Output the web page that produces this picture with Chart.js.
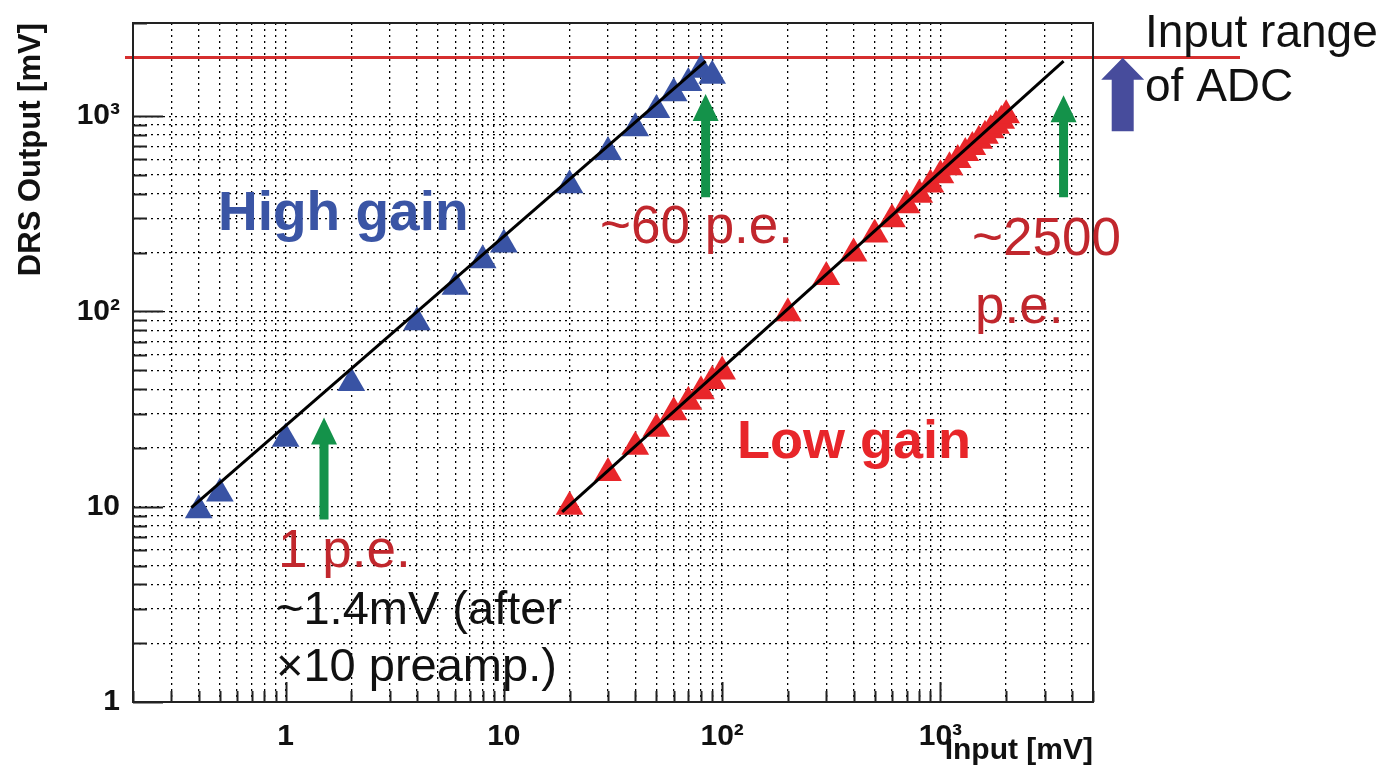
<!DOCTYPE html>
<html>
<head>
<meta charset="utf-8">
<title>DRS output vs input</title>
<script src="https://cdn.jsdelivr.net/npm/chart.js@4.4.0/dist/chart.umd.min.js"></script>
<style>
  html, body { margin: 0; padding: 0; background: #fff; }
  #wrap { width: 1399px; height: 772px; position: relative; }
</style>
</head>
<body>
<div id="wrap"><canvas id="drsChart"></canvas></div>
<script>
// High gain channel: input [mV] -> DRS output [mV]
const highInput  = [0.4, 0.5, 1, 2, 4, 6, 8, 10, 20, 30, 40, 50, 60, 70, 80, 90];
const highOutput = [9.6, 11.7, 22.3, 43, 88, 134, 183, 220, 443, 656, 868, 1077, 1312, 1477, 1727, 1610];

// Low gain channel
const lowInput  = [20, 30, 40, 50, 60, 70, 80, 90, 100, 200, 300, 400, 500, 600, 700, 800, 900,
                   1000, 1100, 1200, 1300, 1400, 1500, 1600, 1700, 1800, 1900, 2000];
const lowOutput = [10, 14.9, 20.3, 25.1, 30.5, 34.5, 39, 44, 49.3, 98, 150, 198, 248, 297, 350, 396, 447,
                   498, 548, 596, 647, 695, 748, 795, 846, 893, 948, 1010];

// linear fits (end points of the drawn lines)
const highFitInput  = [0.37, 84];
const highFitOutput = [9.9, 1915];
const lowFitInput   = [18.5, 3665];
const lowFitOutput  = [9.4, 1915];

// ADC input range
const adcRange = 2000;

// axes
const xRange = [0.2, 5000];
const yRange = [1, 3000];
const xMajor = [1, 10, 100, 1000];
const xTickLabels = ['1', '10', '10²', '10³'];
const yMajor = [1, 10, 100, 1000];
const yTickLabels = ['1', '10', '10²', '10³'];

const FONT = '"Liberation Sans", Arial, Helvetica, sans-serif';

const toPoints = (xs, ys) => xs.map((v, i) => ({ x: v, y: ys[i] }));

// 1..9 x 10^k between min and max
function logTicks(min, max) {
    const out = [];
    for (let e = Math.floor(Math.log10(min)); e <= Math.ceil(Math.log10(max)); e++) {
        for (let d = 1; d < 10; d++) {
            const v = +(d * Math.pow(10, e)).toPrecision(6);
            if (v >= min * 0.999 && v <= max * 1.001) out.push({ value: v, major: d === 1 });
        }
    }
    return out;
}

function drawArrow(ctx, x, yTip, yTail, shaftW, headW, headLen, color) {
    ctx.fillStyle = color;
    ctx.beginPath();
    ctx.moveTo(x, yTip);
    ctx.lineTo(x + headW / 2, yTip + headLen);
    ctx.lineTo(x + shaftW / 2, yTip + headLen);
    ctx.lineTo(x + shaftW / 2, yTail);
    ctx.lineTo(x - shaftW / 2, yTail);
    ctx.lineTo(x - shaftW / 2, yTip + headLen);
    ctx.lineTo(x - headW / 2, yTip + headLen);
    ctx.closePath();
    ctx.fill();
}

// arrows in data coordinates: x value, tip value, tail value
const arrows = [
    { x: 1.5,  tip: 28.6, tail: 8.6, shaftW: 9,  headW: 26, headLen: 27, color: '#14924a' },
    { x: 84,   tip: 1300, tail: 384, shaftW: 9,  headW: 26, headLen: 27, color: '#14924a' },
    { x: 3665, tip: 1280, tail: 384, shaftW: 9,  headW: 26, headLen: 27, color: '#14924a' },
    { x: 6840, tip: 1990, tail: 838, shaftW: 22, headW: 43, headLen: 22, color: '#474c9c' }
];

const notes = [
    { text: 'High gain', x: 218, y: 230, font: 'bold 55px', color: '#3a55a5' },
    { text: 'Low gain', x: 737, y: 458, font: 'bold 54px', color: '#e8262a' },
    { text: '~60 p.e.', x: 600, y: 243, font: '53px', color: '#c1272d' },
    { text: '~2500', x: 972, y: 255, font: '53px', color: '#c1272d' },
    { text: 'p.e.', x: 975, y: 323, font: '53px', color: '#c1272d' },
    { text: '1 p.e.', x: 278, y: 567, font: '53px', color: '#c1272d' },
    { text: '~1.4mV (after', x: 276, y: 624, font: '47px', color: '#111' },
    { text: '×10 preamp.)', x: 276, y: 681, font: '47px', color: '#111' },
    { text: 'Input range', x: 1145, y: 47, font: '46px', color: '#111' },
    { text: 'of ADC', x: 1145, y: 101, font: '46px', color: '#111' }
];

const rootStyle = {
    id: 'rootStyle',
    beforeDatasetsDraw(chart) {
        const { ctx, chartArea: a, scales: { x, y } } = chart;
        ctx.save();
        // inward tick marks
        ctx.strokeStyle = '#222';
        ctx.lineWidth = 2;
        ctx.beginPath();
        x.ticks.forEach(t => {
            const px = Math.round(x.getPixelForValue(t.value)) + 0.5;
            const len = xMajor.includes(t.value) ? 20 : 11;
            ctx.moveTo(px, a.bottom);
            ctx.lineTo(px, a.bottom - len);
        });
        y.ticks.forEach(t => {
            const py = Math.round(y.getPixelForValue(t.value)) + 0.5;
            const len = yMajor.includes(t.value) ? 30 : 14;
            ctx.moveTo(a.left, py);
            ctx.lineTo(a.left + len, py);
        });
        ctx.stroke();

        // ADC range line, runs past both sides of the frame
        const py = y.getPixelForValue(adcRange);
        ctx.strokeStyle = '#d62f2f';
        ctx.lineWidth = 3;
        ctx.beginPath();
        ctx.moveTo(a.left - 8, py);
        ctx.lineTo(a.right + 147, py);
        ctx.stroke();
        ctx.restore();
    },
    afterDatasetsDraw(chart) {
        const { ctx, chartArea: a, scales: { x, y } } = chart;
        ctx.save();
        // frame
        ctx.strokeStyle = '#222';
        ctx.lineWidth = 2;
        ctx.strokeRect(a.left, a.top, a.right - a.left, a.bottom - a.top);

        arrows.forEach(ar => {
            drawArrow(ctx, x.getPixelForValue(ar.x), y.getPixelForValue(ar.tip), y.getPixelForValue(ar.tail),
                ar.shaftW, ar.headW, ar.headLen, ar.color);
        });

        ctx.textAlign = 'left';
        ctx.textBaseline = 'alphabetic';
        notes.forEach(n => {
            ctx.font = n.font + ' ' + FONT;
            ctx.fillStyle = n.color;
            ctx.fillText(n.text, n.x, n.y);
        });
        ctx.restore();
    }
};

new Chart(document.getElementById('drsChart'), {
    type: 'scatter',
    data: {
        datasets: [
            {
                type: 'line',
                label: 'High gain fit',
                data: toPoints(highFitInput, highFitOutput),
                borderColor: '#000',
                borderWidth: 3,
                pointRadius: 0,
                order: 0
            },
            {
                type: 'line',
                label: 'Low gain fit',
                data: toPoints(lowFitInput, lowFitOutput),
                borderColor: '#000',
                borderWidth: 3,
                pointRadius: 0,
                order: 0
            },
            {
                label: 'High gain',
                data: toPoints(highInput, highOutput),
                pointStyle: 'triangle',
                pointRadius: 16,
                pointHoverRadius: 16,
                backgroundColor: '#3953a4',
                borderWidth: 0,
                order: 1
            },
            {
                label: 'Low gain',
                data: toPoints(lowInput, lowOutput),
                pointStyle: 'triangle',
                pointRadius: 16,
                pointHoverRadius: 16,
                backgroundColor: '#e8262a',
                borderWidth: 0,
                order: 1
            }
        ]
    },
    options: {
        responsive: true,
        maintainAspectRatio: false,
        animation: false,
        layout: { padding: { top: 23, right: 306, bottom: 0, left: 0 } },
        plugins: {
            legend: { display: false },
            tooltip: { enabled: false }
        },
        scales: {
            x: {
                type: 'logarithmic',
                min: xRange[0],
                max: xRange[1],
                afterBuildTicks: scale => { scale.ticks = logTicks(xRange[0], xRange[1]); },
                afterFit: scale => {
                    scale.height = 70;
                    scale.paddingLeft = 0;
                    scale.paddingRight = 0;
                },
                grid: { color: '#000', lineWidth: 1.3, drawTicks: false },
                border: { display: false, dash: [2, 4] },
                ticks: {
                    autoSkip: false,
                    maxRotation: 0,
                    padding: 17,
                    color: '#111',
                    font: { family: FONT, size: 30, weight: 'bold' },
                    callback: v => {
                        const i = xMajor.indexOf(v);
                        return i >= 0 ? xTickLabels[i] : '';
                    }
                },
                title: {
                    display: true,
                    text: 'Input [mV]',
                    align: 'end',
                    color: '#111',
                    font: { family: FONT, size: 30, weight: 'bold' },
                    padding: { top: 0, bottom: 3 }
                }
            },
            y: {
                type: 'logarithmic',
                min: yRange[0],
                max: yRange[1],
                afterBuildTicks: scale => { scale.ticks = logTicks(yRange[0], yRange[1]); },
                afterFit: scale => {
                    scale.width = 133;
                    scale.paddingTop = 0;
                    scale.paddingBottom = 0;
                },
                grid: { color: '#000', lineWidth: 1.3, drawTicks: false },
                border: { display: false, dash: [2, 4] },
                ticks: {
                    autoSkip: false,
                    padding: 13,
                    color: '#111',
                    font: { family: FONT, size: 30, weight: 'bold' },
                    callback: v => {
                        const i = yMajor.indexOf(v);
                        return i >= 0 ? yTickLabels[i] : '';
                    }
                },
                title: {
                    display: true,
                    text: 'DRS Output [mV]',
                    align: 'end',
                    color: '#111',
                    font: { family: FONT, size: 31, weight: 'bold' },
                    padding: { top: 13, bottom: 0 }
                }
            }
        }
    },
    plugins: [rootStyle]
});
</script>
</body>
</html>
